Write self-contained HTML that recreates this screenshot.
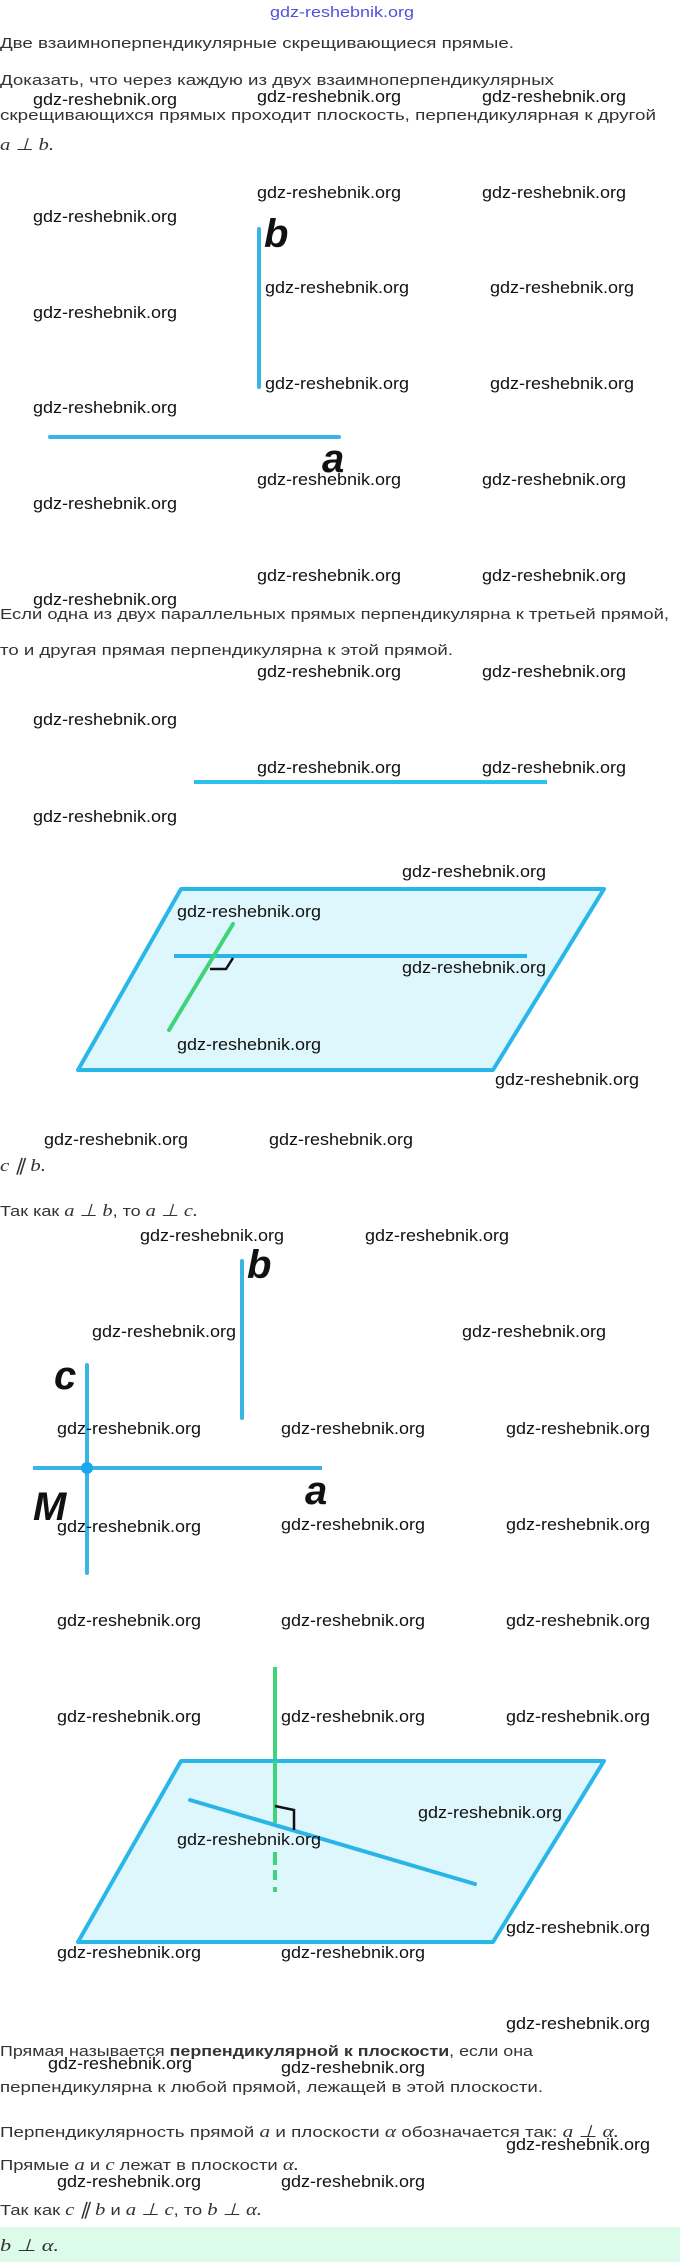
<!DOCTYPE html>
<html><head><meta charset="utf-8">
<style>
html,body{margin:0;padding:0;background:#fff;width:680px;height:2262px;overflow:hidden}
svg{display:block}
.t{font-family:"Liberation Sans",sans-serif;font-size:15px;fill:#333}
.m{font-family:"Liberation Serif",serif;font-style:italic;font-size:17px;fill:#333}
.w{font-family:"Liberation Sans",sans-serif;font-size:17px;fill:#111}
.L{font-family:"Liberation Sans",sans-serif;font-style:italic;font-weight:bold;font-size:40px;fill:#111}
</style></head><body>
<svg width="680" height="2262" viewBox="0 0 680 2262" xmlns="http://www.w3.org/2000/svg">
<rect x="0" y="2227" width="680" height="35" fill="#dcfbe9"/>
<text x="270" y="17" font-family="Liberation Sans, sans-serif" font-size="15" fill="#5050e0" textLength="144" lengthAdjust="spacingAndGlyphs">gdz-reshebnik.org</text>

<text class="t" x="0" y="48" textLength="514" lengthAdjust="spacingAndGlyphs">Две взаимноперпендикулярные скрещивающиеся прямые.</text>
<text class="t" x="0" y="85" textLength="554" lengthAdjust="spacingAndGlyphs">Доказать, что через каждую из двух взаимноперпендикулярных</text>
<text class="t" x="0" y="120" textLength="656" lengthAdjust="spacingAndGlyphs">скрещивающихся прямых проходит плоскость, перпендикулярная к другой</text>
<text class="m" x="0" y="150" textLength="54" lengthAdjust="spacingAndGlyphs">a ⊥ b.</text>

<!-- fig 1 -->
<line x1="259" y1="229" x2="259" y2="387" stroke="#3ab4e6" stroke-width="4" stroke-linecap="round"/>
<line x1="50" y1="437" x2="339" y2="437" stroke="#3ab4e6" stroke-width="4" stroke-linecap="round"/>
<text class="L" x="264" y="247">b</text>
<text class="L" x="322" y="472">a</text>

<text class="t" x="0" y="619" textLength="669" lengthAdjust="spacingAndGlyphs">Если одна из двух параллельных прямых перпендикулярна к третьей прямой,</text>
<text class="t" x="0" y="655" textLength="453" lengthAdjust="spacingAndGlyphs">то и другая прямая перпендикулярна к этой прямой.</text>

<!-- fig 2 -->
<line x1="194" y1="782" x2="547" y2="782" stroke="#2ec0ec" stroke-width="4"/>
<polygon points="181,889 604,889 493,1070 78,1070" fill="#def7fd" stroke="#29b6e8" stroke-width="4" stroke-linejoin="round"/>
<line x1="174" y1="956" x2="527" y2="956" stroke="#2ab5e6" stroke-width="4"/>
<line x1="233" y1="924" x2="169" y2="1030" stroke="#3fd47a" stroke-width="4" stroke-linecap="round"/>
<polyline points="210,969 226,969 233,958" fill="none" stroke="#111" stroke-width="2.5"/>

<text class="m" x="0" y="1171" textLength="46" lengthAdjust="spacingAndGlyphs">c ∥ b.</text>
<text x="0" y="1216" textLength="198" lengthAdjust="spacingAndGlyphs"><tspan class="t">Так как </tspan><tspan class="m">a ⊥ b</tspan><tspan class="t">, то </tspan><tspan class="m">a ⊥ c.</tspan></text>

<!-- fig 3 -->
<line x1="242" y1="1261" x2="242" y2="1418" stroke="#3ab4e6" stroke-width="4" stroke-linecap="round"/>
<line x1="87" y1="1365" x2="87" y2="1573" stroke="#3ab4e6" stroke-width="4" stroke-linecap="round"/>
<line x1="33" y1="1468" x2="322" y2="1468" stroke="#3ab4e6" stroke-width="4"/>
<circle cx="87" cy="1468" r="6" fill="#1aa8ec"/>
<text class="L" x="247" y="1278">b</text>
<text class="L" x="54" y="1389">c</text>
<text class="L" x="305" y="1504">a</text>
<text class="L" x="33" y="1520">M</text>

<!-- fig 4 -->
<line x1="275" y1="1667" x2="275" y2="1762" stroke="#3fd47a" stroke-width="4"/>
<polygon points="181,1761 604,1761 493,1942 78,1942" fill="#def7fd" stroke="#29b6e8" stroke-width="4" stroke-linejoin="round"/>
<line x1="275" y1="1761" x2="275" y2="1823" stroke="#3fd47a" stroke-width="4"/>
<line x1="275" y1="1852" x2="275" y2="1865" stroke="#3fd47a" stroke-width="4"/>
<line x1="275" y1="1870" x2="275" y2="1880" stroke="#3fd47a" stroke-width="4"/>
<line x1="275" y1="1887" x2="275" y2="1892" stroke="#3fd47a" stroke-width="4"/>
<line x1="190" y1="1800" x2="475" y2="1884" stroke="#2ab5e6" stroke-width="4" stroke-linecap="round"/>
<polyline points="275,1806 294,1810 294,1830" fill="none" stroke="#111" stroke-width="2.5"/>

<text x="0" y="2056" textLength="533" lengthAdjust="spacingAndGlyphs"><tspan class="t">Прямая называется </tspan><tspan class="t" font-weight="bold">перпендикулярной к плоскости</tspan><tspan class="t">, если она</tspan></text>
<text class="t" x="0" y="2092" textLength="543" lengthAdjust="spacingAndGlyphs">перпендикулярна к любой прямой, лежащей в этой плоскости.</text>
<text x="0" y="2137" textLength="619" lengthAdjust="spacingAndGlyphs"><tspan class="t">Перпендикулярность прямой </tspan><tspan class="m">a</tspan><tspan class="t"> и плоскости </tspan><tspan class="m">α</tspan><tspan class="t"> обозначается так: </tspan><tspan class="m">a ⊥ α.</tspan></text>
<text x="0" y="2170" textLength="299" lengthAdjust="spacingAndGlyphs"><tspan class="t">Прямые </tspan><tspan class="m">a</tspan><tspan class="t"> и </tspan><tspan class="m">c</tspan><tspan class="t"> лежат в плоскости </tspan><tspan class="m">α.</tspan></text>
<text x="0" y="2215" textLength="262" lengthAdjust="spacingAndGlyphs"><tspan class="t">Так как </tspan><tspan class="m">c ∥ b</tspan><tspan class="t"> и </tspan><tspan class="m">a ⊥ c</tspan><tspan class="t">, то </tspan><tspan class="m">b ⊥ α.</tspan></text>
<text class="m" x="0" y="2251" textLength="59" lengthAdjust="spacingAndGlyphs">b ⊥ α.</text>

<!-- watermarks -->
<g class="w">
<text class="w" x="33" y="105" textLength="144" lengthAdjust="spacingAndGlyphs">gdz-reshebnik.org</text>
<text class="w" x="257" y="102" textLength="144" lengthAdjust="spacingAndGlyphs">gdz-reshebnik.org</text>
<text class="w" x="482" y="102" textLength="144" lengthAdjust="spacingAndGlyphs">gdz-reshebnik.org</text>
<text class="w" x="257" y="198" textLength="144" lengthAdjust="spacingAndGlyphs">gdz-reshebnik.org</text>
<text class="w" x="482" y="198" textLength="144" lengthAdjust="spacingAndGlyphs">gdz-reshebnik.org</text>
<text class="w" x="33" y="222" textLength="144" lengthAdjust="spacingAndGlyphs">gdz-reshebnik.org</text>
<text class="w" x="265" y="293" textLength="144" lengthAdjust="spacingAndGlyphs">gdz-reshebnik.org</text>
<text class="w" x="490" y="293" textLength="144" lengthAdjust="spacingAndGlyphs">gdz-reshebnik.org</text>
<text class="w" x="33" y="318" textLength="144" lengthAdjust="spacingAndGlyphs">gdz-reshebnik.org</text>
<text class="w" x="265" y="389" textLength="144" lengthAdjust="spacingAndGlyphs">gdz-reshebnik.org</text>
<text class="w" x="490" y="389" textLength="144" lengthAdjust="spacingAndGlyphs">gdz-reshebnik.org</text>
<text class="w" x="33" y="413" textLength="144" lengthAdjust="spacingAndGlyphs">gdz-reshebnik.org</text>
<text class="w" x="257" y="485" textLength="144" lengthAdjust="spacingAndGlyphs">gdz-reshebnik.org</text>
<text class="w" x="482" y="485" textLength="144" lengthAdjust="spacingAndGlyphs">gdz-reshebnik.org</text>
<text class="w" x="33" y="509" textLength="144" lengthAdjust="spacingAndGlyphs">gdz-reshebnik.org</text>
<text class="w" x="257" y="581" textLength="144" lengthAdjust="spacingAndGlyphs">gdz-reshebnik.org</text>
<text class="w" x="482" y="581" textLength="144" lengthAdjust="spacingAndGlyphs">gdz-reshebnik.org</text>
<text class="w" x="33" y="605" textLength="144" lengthAdjust="spacingAndGlyphs">gdz-reshebnik.org</text>
<text class="w" x="257" y="677" textLength="144" lengthAdjust="spacingAndGlyphs">gdz-reshebnik.org</text>
<text class="w" x="482" y="677" textLength="144" lengthAdjust="spacingAndGlyphs">gdz-reshebnik.org</text>
<text class="w" x="33" y="725" textLength="144" lengthAdjust="spacingAndGlyphs">gdz-reshebnik.org</text>
<text class="w" x="257" y="773" textLength="144" lengthAdjust="spacingAndGlyphs">gdz-reshebnik.org</text>
<text class="w" x="482" y="773" textLength="144" lengthAdjust="spacingAndGlyphs">gdz-reshebnik.org</text>
<text class="w" x="33" y="822" textLength="144" lengthAdjust="spacingAndGlyphs">gdz-reshebnik.org</text>
<text class="w" x="402" y="877" textLength="144" lengthAdjust="spacingAndGlyphs">gdz-reshebnik.org</text>
<text class="w" x="177" y="917" textLength="144" lengthAdjust="spacingAndGlyphs">gdz-reshebnik.org</text>
<text class="w" x="402" y="973" textLength="144" lengthAdjust="spacingAndGlyphs">gdz-reshebnik.org</text>
<text class="w" x="177" y="1050" textLength="144" lengthAdjust="spacingAndGlyphs">gdz-reshebnik.org</text>
<text class="w" x="495" y="1085" textLength="144" lengthAdjust="spacingAndGlyphs">gdz-reshebnik.org</text>
<text class="w" x="44" y="1145" textLength="144" lengthAdjust="spacingAndGlyphs">gdz-reshebnik.org</text>
<text class="w" x="269" y="1145" textLength="144" lengthAdjust="spacingAndGlyphs">gdz-reshebnik.org</text>
<text class="w" x="140" y="1241" textLength="144" lengthAdjust="spacingAndGlyphs">gdz-reshebnik.org</text>
<text class="w" x="365" y="1241" textLength="144" lengthAdjust="spacingAndGlyphs">gdz-reshebnik.org</text>
<text class="w" x="92" y="1337" textLength="144" lengthAdjust="spacingAndGlyphs">gdz-reshebnik.org</text>
<text class="w" x="462" y="1337" textLength="144" lengthAdjust="spacingAndGlyphs">gdz-reshebnik.org</text>
<text class="w" x="57" y="1434" textLength="144" lengthAdjust="spacingAndGlyphs">gdz-reshebnik.org</text>
<text class="w" x="281" y="1434" textLength="144" lengthAdjust="spacingAndGlyphs">gdz-reshebnik.org</text>
<text class="w" x="506" y="1434" textLength="144" lengthAdjust="spacingAndGlyphs">gdz-reshebnik.org</text>
<text class="w" x="57" y="1532" textLength="144" lengthAdjust="spacingAndGlyphs">gdz-reshebnik.org</text>
<text class="w" x="281" y="1530" textLength="144" lengthAdjust="spacingAndGlyphs">gdz-reshebnik.org</text>
<text class="w" x="506" y="1530" textLength="144" lengthAdjust="spacingAndGlyphs">gdz-reshebnik.org</text>
<text class="w" x="57" y="1626" textLength="144" lengthAdjust="spacingAndGlyphs">gdz-reshebnik.org</text>
<text class="w" x="281" y="1626" textLength="144" lengthAdjust="spacingAndGlyphs">gdz-reshebnik.org</text>
<text class="w" x="506" y="1626" textLength="144" lengthAdjust="spacingAndGlyphs">gdz-reshebnik.org</text>
<text class="w" x="57" y="1722" textLength="144" lengthAdjust="spacingAndGlyphs">gdz-reshebnik.org</text>
<text class="w" x="281" y="1722" textLength="144" lengthAdjust="spacingAndGlyphs">gdz-reshebnik.org</text>
<text class="w" x="506" y="1722" textLength="144" lengthAdjust="spacingAndGlyphs">gdz-reshebnik.org</text>
<text class="w" x="418" y="1818" textLength="144" lengthAdjust="spacingAndGlyphs">gdz-reshebnik.org</text>
<text class="w" x="177" y="1845" textLength="144" lengthAdjust="spacingAndGlyphs">gdz-reshebnik.org</text>
<text class="w" x="506" y="1933" textLength="144" lengthAdjust="spacingAndGlyphs">gdz-reshebnik.org</text>
<text class="w" x="57" y="1958" textLength="144" lengthAdjust="spacingAndGlyphs">gdz-reshebnik.org</text>
<text class="w" x="281" y="1958" textLength="144" lengthAdjust="spacingAndGlyphs">gdz-reshebnik.org</text>
<text class="w" x="506" y="2029" textLength="144" lengthAdjust="spacingAndGlyphs">gdz-reshebnik.org</text>
<text class="w" x="48" y="2069" textLength="144" lengthAdjust="spacingAndGlyphs">gdz-reshebnik.org</text>
<text class="w" x="281" y="2073" textLength="144" lengthAdjust="spacingAndGlyphs">gdz-reshebnik.org</text>
<text class="w" x="506" y="2150" textLength="144" lengthAdjust="spacingAndGlyphs">gdz-reshebnik.org</text>
<text class="w" x="57" y="2187" textLength="144" lengthAdjust="spacingAndGlyphs">gdz-reshebnik.org</text>
<text class="w" x="281" y="2187" textLength="144" lengthAdjust="spacingAndGlyphs">gdz-reshebnik.org</text>
</g>
</svg>
</body></html>
